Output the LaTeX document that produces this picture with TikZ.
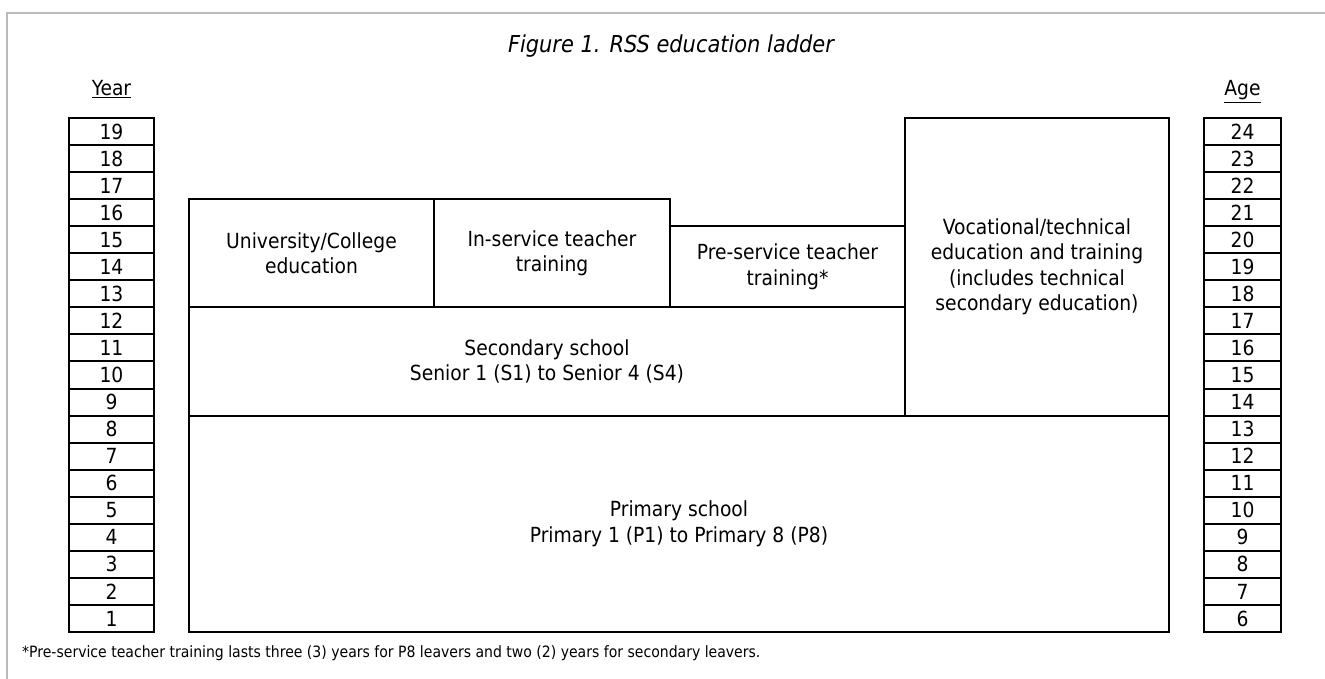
\documentclass[tikz,border=0pt]{standalone}
\usepackage{fontspec}
\setmainfont{DejaVu Sans Condensed}
\begin{document}
\begin{tikzpicture}[x=1pt,y=-1pt,
  cell/.style={draw=black,line width=2pt,inner sep=0pt,minimum height=27.05pt,
    font=\fontsize{20.8}{24}\selectfont},
  yearcell/.style={cell,minimum width=85pt},
  agecell/.style={cell,minimum width=77pt},
  stage/.style={draw=black,line width=2pt,inner sep=0pt,align=center,
    font=\fontsize{20.8}{25.5}\selectfont},
  colhead/.style={font=\fontsize{20.8}{24}\selectfont},
  frameline/.style={draw=black!27,line width=1.6pt}]
\useasboundingbox (0,0) rectangle (1325,679);

% page frame (top and left edges only)
\draw[frameline] (7,679) -- (7,13) -- (1325,13);

% title
\node[anchor=base,font=\fontsize{23.3}{27}\selectfont\itshape] (title) at (671,53)
  {Figure 1. RSS education ladder};

% column headings
\node[colhead,anchor=base] (yearhead) at (111.5,96) {\underline{Year}};
\node[colhead,anchor=base] (agehead) at (1242.5,96) {\underline{Age}};

% year and age scales
\foreach \i in {1,...,19}{
  \pgfmathsetmacro{\cy}{632-(\i-0.5)*27.0526}
  \pgfmathtruncatemacro{\age}{\i+5}
  \node[yearcell] (year\i) at (111.5,\cy) {\i};
  \node[agecell] (age\i) at (1242.5,\cy) {\age};
}

% stages of the ladder
\node[stage,minimum width=980pt,minimum height=216.4pt] (primary) at (679,523.8)
  {Primary school\\Primary 1 (P1) to Primary 8 (P8)};
\node[stage,minimum width=716pt,minimum height=108.2pt] (secondary) at (547,361.5)
  {Secondary school\\Senior 1 (S1) to Senior 4 (S4)};
\node[stage,minimum width=264pt,minimum height=297.6pt] (vocational) at (1037,266.8)
  {Vocational/technical\\education and training\\(includes technical\\secondary education)};
\node[stage,minimum width=245pt,minimum height=108.2pt] (university) at (311.5,253.3)
  {University/College\\education};
\node[stage,minimum width=236pt,minimum height=108.2pt] (inservice) at (552,253.3)
  {In-service teacher\\training};
\node[stage,minimum width=235pt,minimum height=81.2pt] (preservice) at (787.5,266.8)
  {Pre-service teacher\\training*};

% footnote
\node[anchor=base west,inner sep=0pt,font=\fontsize{15.6}{18}\selectfont] (note) at (22,657)
  {*Pre-service teacher training lasts three (3) years for P8 leavers and two (2) years for secondary leavers.};
\end{tikzpicture}
\end{document}
